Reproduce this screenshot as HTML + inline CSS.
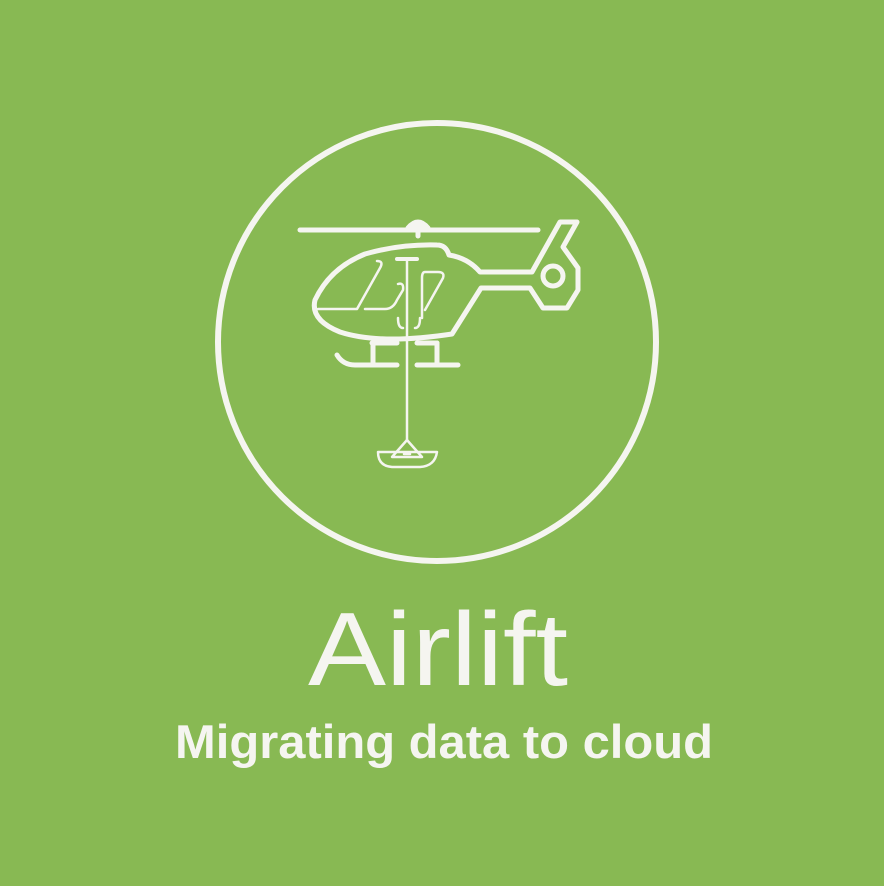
<!DOCTYPE html>
<html><head><meta charset="utf-8"><style>
html,body{margin:0;padding:0;background:#88b953;}
svg{display:block}
</style></head><body>
<svg width="884" height="886" viewBox="0 0 884 886" xmlns="http://www.w3.org/2000/svg">
<rect width="884" height="886" fill="#88b953"/>
<circle cx="437" cy="342" r="219" fill="none" stroke="#f5f5f0" stroke-width="6"/>
<g fill="none" stroke="#f5f5f0" stroke-width="5" stroke-linecap="round" stroke-linejoin="round">
  <line x1="300" y1="230" x2="538" y2="230"/>
  <path d="M408 228 Q418 216 428 228 Z" fill="#f5f5f0"/>
  <line x1="418" y1="230" x2="418" y2="236"/>
  <path d="M437 245 Q446 245 449 255 Q468 258 480 272 L532 272 L560 222 L577 222 L563 247 L578 268 L578 290 L567 308 L543 308 L530 288 L481 288 L452 334 Q380 345 340 332 Q310 320 315 300 Q330 268 365 254 Q400 244 437 245 Z"/>
  <circle cx="553" cy="276" r="10"/>
  <line x1="373" y1="343" x2="373" y2="364"/>
  <line x1="437" y1="343" x2="437" y2="364"/>
  <path d="M337 355 Q343 365 355 365 L397 365"/>
  <line x1="417" y1="365" x2="458" y2="365"/>
  <line x1="372" y1="343" x2="397" y2="343"/>
  <line x1="417" y1="343" x2="437" y2="343"/>
</g>
<g fill="none" stroke="#f5f5f0" stroke-width="2.5" stroke-linecap="round" stroke-linejoin="round">
  <path d="M318 309 L357 309 L380 268 Q384 261 377 261"/>
  <path d="M365 309 L385 309 Q393 309 397 300 L403 290 Q404 282 398 284"/>
  <path d="M425 310 L443 278 Q445 272 438 272 L425 272 Q422 272 422 278 L422 318"/>
  <path d="M398 318 Q398 328 403 328"/>
  <path d="M420 318 Q420 328 415 328"/>
  <line x1="407" y1="259" x2="407" y2="440"/>
  <line x1="397" y1="259" x2="417" y2="259" stroke-width="4"/>
  <path d="M407 440 L392 457 L422 457 Z"/>
  <path d="M378 452 L437 452 Q435 466 420 467 L392 467 Q378 466 378 452 Z"/>
  <line x1="404" y1="454" x2="410" y2="454"/>
</g>
<text x="438" y="685" text-anchor="middle" font-family="Liberation Sans, sans-serif" font-size="104" fill="#f5f5f0" textLength="260" lengthAdjust="spacingAndGlyphs">Airlift</text>
<text x="444" y="758" text-anchor="middle" font-family="Liberation Sans, sans-serif" font-weight="bold" font-size="47" fill="#f5f5f0" textLength="538" lengthAdjust="spacingAndGlyphs">Migrating data to cloud</text>
</svg>
</body></html>
